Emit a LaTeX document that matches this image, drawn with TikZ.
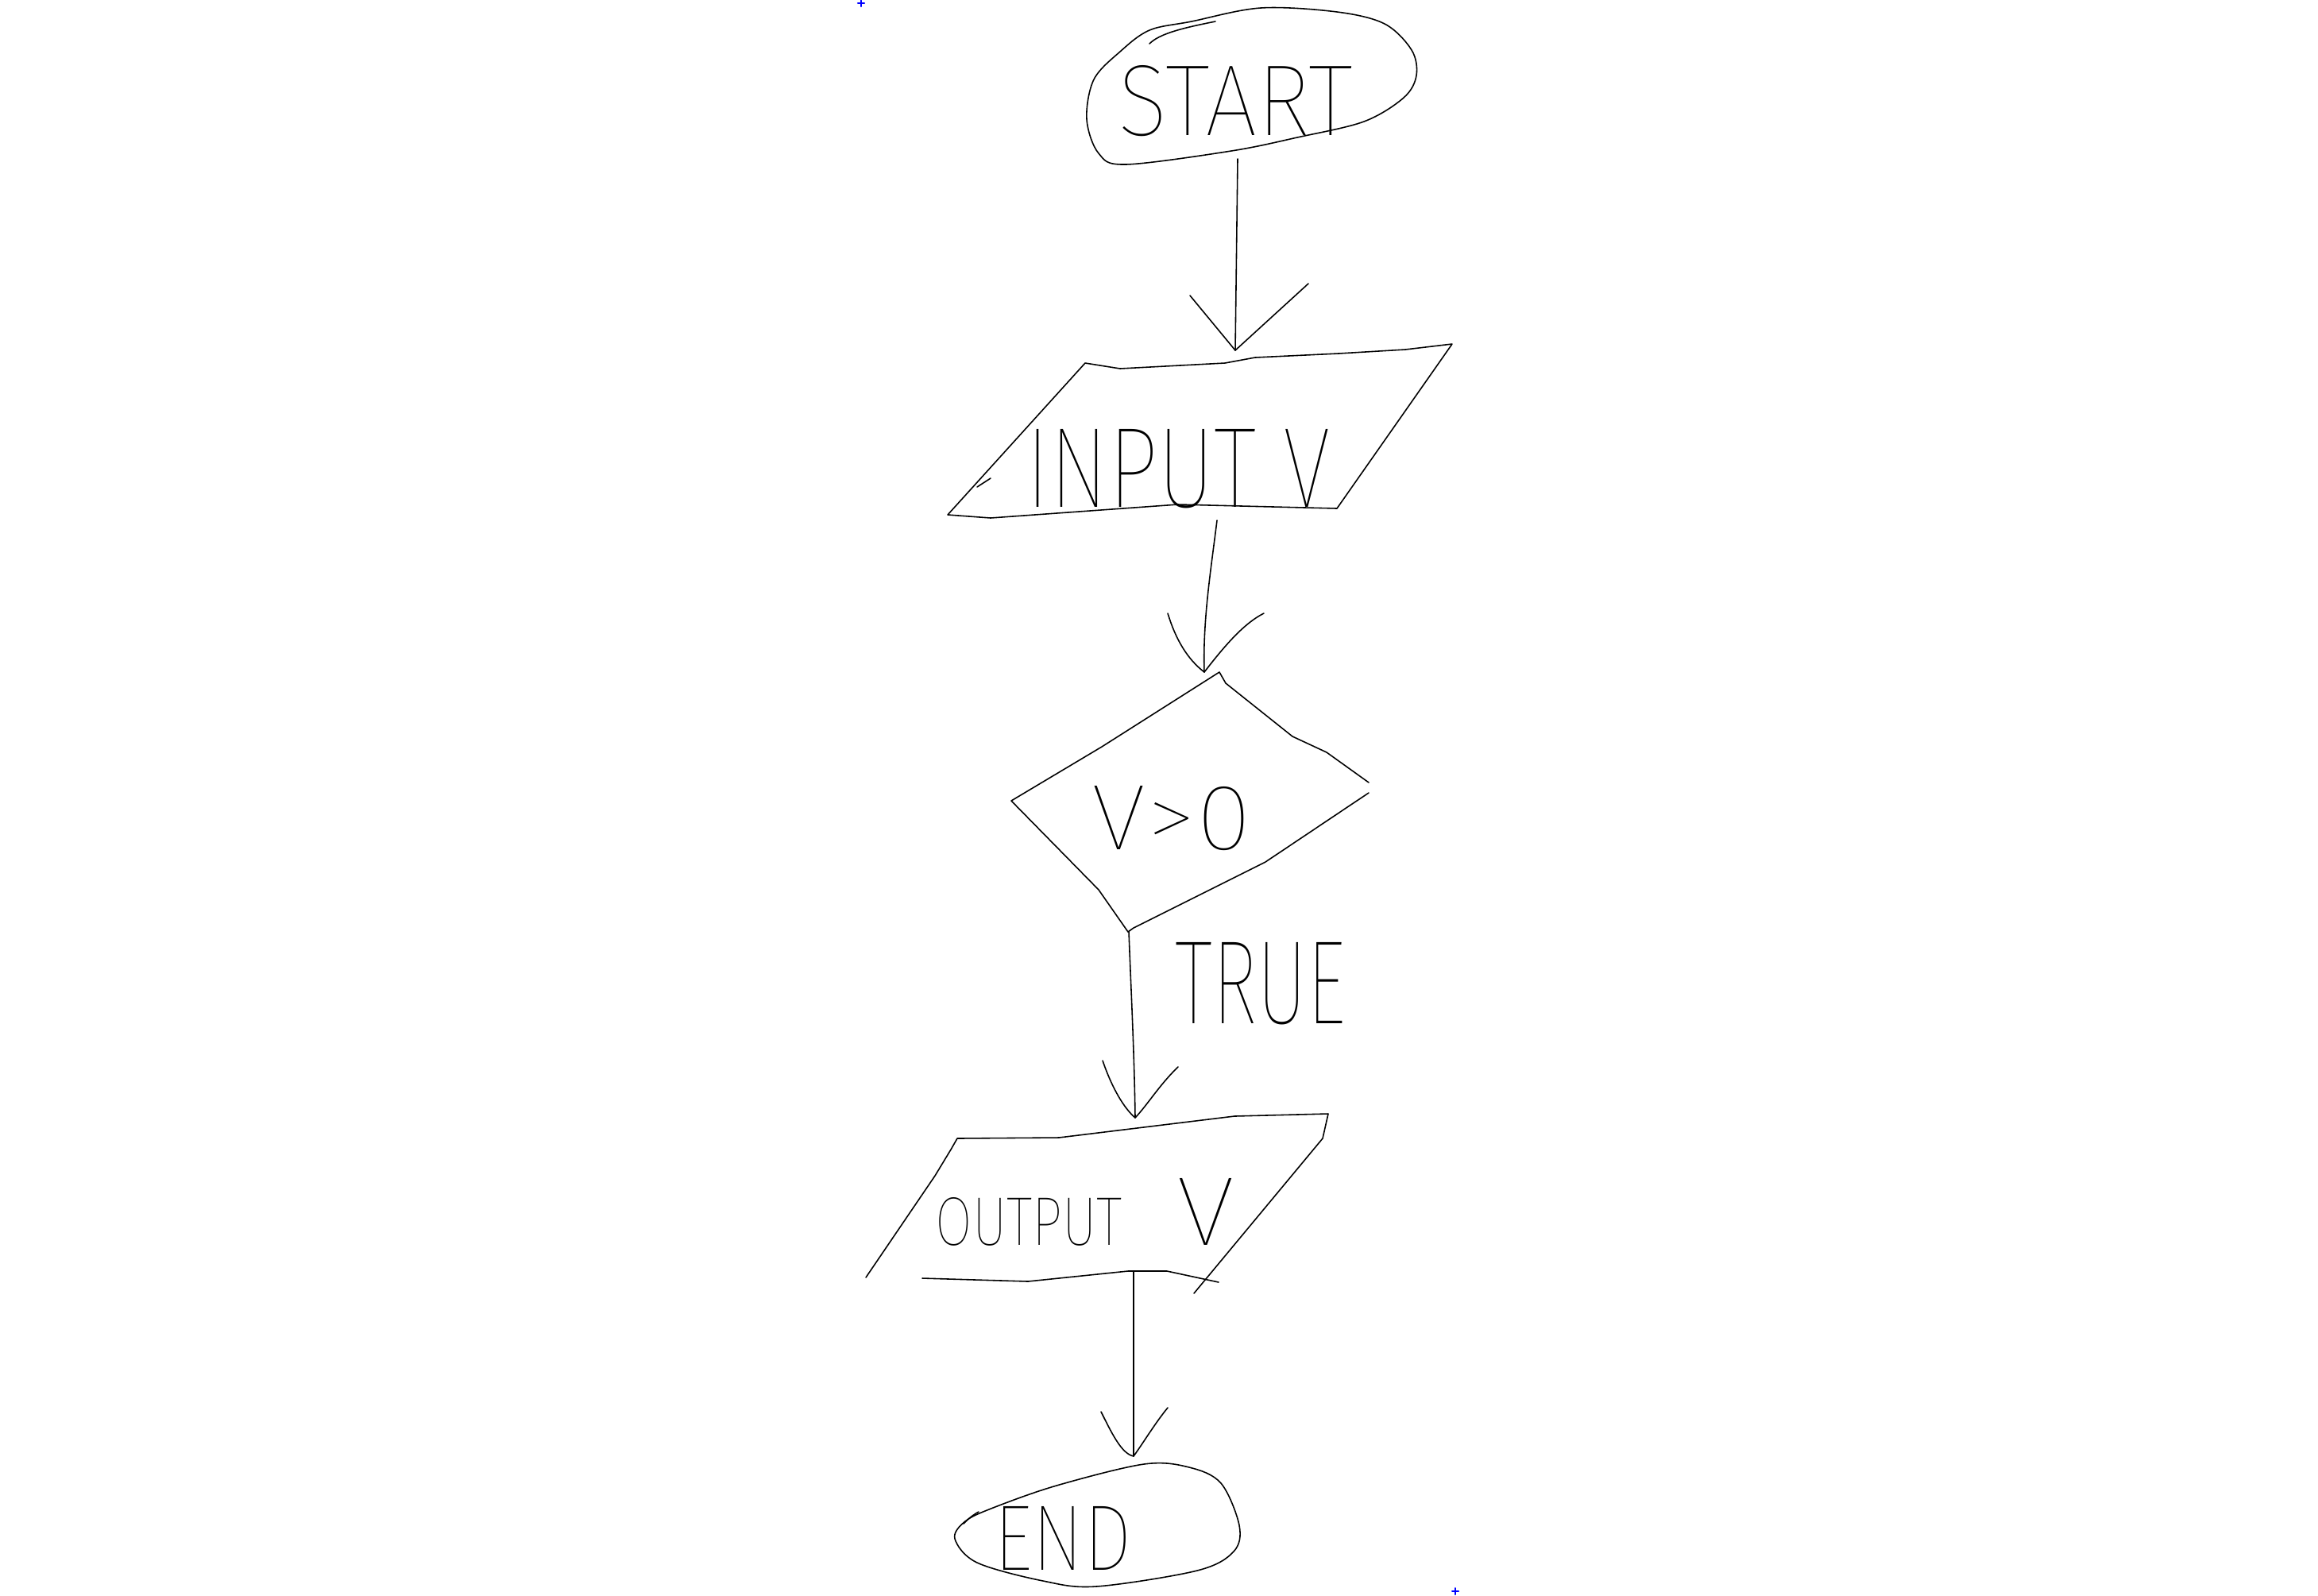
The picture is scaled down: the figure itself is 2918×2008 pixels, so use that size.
\documentclass[tikz,border=0pt]{standalone}
\usepackage{graphicx}
\usepackage{fontspec}
\IfFontExistsTF{Fira Sans Thin}{\newfontfamily\handfont{Fira Sans Thin}}{%
 \IfFontExistsTF{FiraSans-Thin.otf}{\newfontfamily\handfont{FiraSans-Thin.otf}}{%
  \IfFontExistsTF{Lato Hairline}{\newfontfamily\handfont{Lato Hairline}}{%
   \IfFontExistsTF{Fira Sans Light}{\newfontfamily\handfont{Fira Sans Light}}{%
    \IfFontExistsTF{Open Sans Light}{\newfontfamily\handfont{Open Sans Light}}{%
     \newfontfamily\handfont{Fira Sans}}}}}}
\begin{document}
\begin{tikzpicture}[x=0.01cm,y=-0.01cm,line width=0.45pt,line join=round,line cap=round,
  outline/.style={draw=black},
  conn/.style={draw=black},
  lbl/.style={inner sep=0pt,font=\handfont},
  crossmk/.style={draw=blue,line width=0.6pt}]
\useasboundingbox (0,0) rectangle (2918,2008);
\fill[white] (0,0) rectangle (2918,2008);

% ---------- text nodes
\node[lbl] (start) at (1555,127) {\resizebox{2.95cm}{0.88cm}{START}};
\node[lbl] (input) at (1483,590) {\resizebox{3.83cm}{0.98cm}{INPUT V}};
\node[lbl] (cond) at (1475,1030) {\resizebox{2.0cm}{0.8cm}{V>0}};
\node[lbl] (true) at (1587,1238) {\resizebox{2.14cm}{1.02cm}{TRUE}};
\node[lbl,anchor=west] (output) at (1177,1526) {\resizebox{2.35cm}{0.6cm}{OUTPUT}\hspace{0.69cm}\resizebox{0.73cm}{0.84cm}{V}};
\node[lbl] (end) at (1338,1936) {\resizebox{1.73cm}{0.8cm}{END}};

% ---------- START terminal
\draw[outline] plot[smooth cycle,tension=0.55] coordinates {
  (1500,27) (1587,10) (1683,15) (1743,30) (1777,63) (1783,95) (1767,123)
  (1717,153) (1633,173) (1550,190) (1417,207) (1383,193) (1368,150)
  (1377,100) (1410,65) (1447,38)};
\draw[outline] (1447,55) .. controls (1460,42) and (1490,35) .. (1530,27);

% ---------- INPUT V parallelogram
\draw[outline] (1366,457) -- (1410,464) -- (1542,457) -- (1580,450) -- (1685,445) -- (1769,440)
  -- (1828,433) -- (1683,640) -- (1483,635) -- (1247,652) -- (1193,648) -- cycle;
\draw[outline] (1230,613) -- (1247,602);

% ---------- decision diamond
\draw[outline] (1723,985) -- (1670,947) -- (1627,927) -- (1543,860) -- (1535,846)
  -- (1387,940) -- (1273,1008) -- (1383,1120) -- (1420,1173)
  -- (1427,1168) -- (1593,1085) -- (1723,998);

% ---------- OUTPUT V parallelogram
\draw[outline] (1090,1608) -- (1177,1480) -- (1197,1447) -- (1205,1433) -- (1333,1432)
  -- (1554,1405) -- (1672,1402) -- (1665,1433) -- (1503,1628);
\draw[outline] (1161,1609) -- (1294,1613) -- (1420,1600) -- (1469,1600) -- (1534,1614);

% ---------- END terminal
\draw[outline] plot[smooth cycle,tension=0.55] coordinates {
  (1330,1870) (1440,1843) (1497,1847) (1537,1867) (1560,1920) (1553,1953)
  (1507,1977) (1380,1997) (1313,1990) (1230,1967) (1202,1937) (1215,1915) (1250,1898)};
\draw[outline] (1213,1918) .. controls (1222,1908) and (1232,1903) .. (1232,1903);

% ---------- connector end points
\coordinate (startB) at (1558,200);
\coordinate (inputT) at (1555,441);
\coordinate (inputB) at (1532,655);
\coordinate (condT)  at (1516,846);
\coordinate (condB)  at (1421,1173);
\coordinate (outT)   at (1429,1407);
\coordinate (outB)   at (1427,1601);
\coordinate (endT)   at (1427,1833);
\coordinate (h1l) at (1498,372); \coordinate (h1r) at (1647,357);
\coordinate (h2l) at (1470,772); \coordinate (h2r) at (1591,772);
\coordinate (h3l) at (1388,1335); \coordinate (h3r) at (1483,1343);
\coordinate (h4l) at (1386,1777); \coordinate (h4r) at (1470,1772);

% ---------- connectors
\draw[conn] (startB) -- (inputT);
\draw[conn] (h1l) -- (inputT) -- (h1r);

\draw[conn] (inputB) .. controls (1524,720) and (1514,780) .. (condT);
\draw[conn] (h2l) .. controls (1480,805) and (1495,830) .. (condT)
  .. controls (1540,815) and (1565,785) .. (h2r);

\draw[conn] (condB) .. controls (1424,1250) and (1428,1330) .. (outT);
\draw[conn] (h3l) .. controls (1400,1370) and (1415,1395) .. (outT)
  .. controls (1445,1390) and (1460,1365) .. (h3r);

\draw[conn] (outB) -- (endT);
\draw[conn] (h4l) .. controls (1400,1805) and (1412,1830) .. (endT)
  .. controls (1440,1815) and (1455,1790) .. (h4r);

% ---------- small blue marks
\draw[crossmk] (1080,4) -- (1088,4) (1084,0.5) -- (1084,8);
\draw[crossmk] (1828,2003) -- (1836,2003) (1832,1999) -- (1832,2007);
\end{tikzpicture}
\end{document}
